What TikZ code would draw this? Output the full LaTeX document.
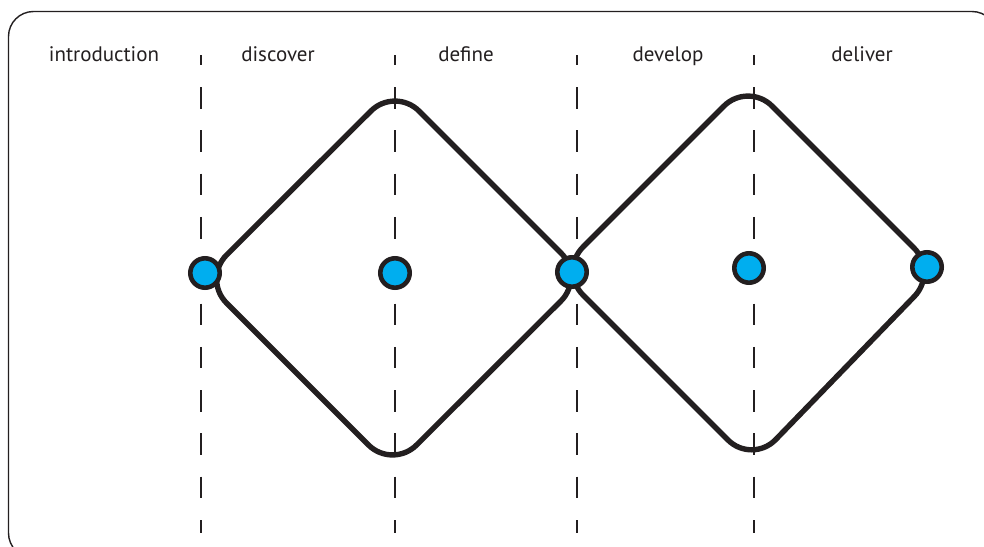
\documentclass[tikz,border=0pt]{standalone}
\usepackage{fontspec}
\setmainfont{PT Sans}
\usetikzlibrary{calc}
\definecolor{ink}{HTML}{231F20}
\definecolor{dotblue}{HTML}{00AEEF}
\begin{document}
\begin{tikzpicture}[x=1pt,y=-1pt,
  frame/.style={draw=ink, line width=1.4pt, rounded corners=25pt},
  divider/.style={draw=ink, line width=1.3pt, dash pattern=on 21.6pt off 21.7pt, dash phase=11.3pt},
  loopline/.style={draw=ink, line width=5.4pt, rounded corners=34pt, line join=round},
  stage/.style={anchor=base, font=\fontsize{21}{24}\selectfont, text=ink, inner sep=0pt},
  dot/.style={circle, draw=ink, fill=dotblue, line width=4.6pt, minimum size=29.4pt, inner sep=0pt}]

% page area
\useasboundingbox (0,0) rectangle (984,546);
\clip (0,0) rectangle (984,546);

% outer frame (runs past the right and bottom edges)
\draw[frame] (8.5,11.5) rectangle (997,558);

% stage labels
\node[stage] (intro)    at (104,61) {introduction};
\node[stage] (discover) at (278,61) {discover};
\node[stage] (define)   at (466,61) {define};
\node[stage] (develop)  at (668,61) {develop};
\node[stage] (deliver)  at (862,61) {deliver};

% dashed dividers between the stages
\foreach \i/\x in {1/201,2/395,3/577,4/754}{
  \coordinate (top\i) at (\x,55);
  \coordinate (bot\i) at (\x,533);
  \draw[divider] (top\i) -- (bot\i);
}

% corners of the two diamonds
\coordinate (aL) at (202.5,279);
\coordinate (aT) at (395,87);
\coordinate (aR) at (585,277);
\coordinate (aB) at (392.5,469);
\coordinate (bL) at (559,271);
\coordinate (bT) at (748,82);
\coordinate (bR) at (938,272);
\coordinate (bB) at (752,464);

\draw[loopline] ($(aL)!0.5!(aT)$) -- (aT) -- (aR) -- (aB) -- (aL) -- cycle;
\draw[loopline] ($(bL)!0.5!(bT)$) -- (bT) -- (bR) -- (bB) -- (bL) -- cycle;

% milestone dots
\node[dot] (m1) at (205,273) {};
\node[dot] (m2) at (395,273) {};
\node[dot] (m3) at (572,272) {};
\node[dot] (m4) at (749,268) {};
\node[dot] (m5) at (927,267) {};
\end{tikzpicture}
\end{document}
